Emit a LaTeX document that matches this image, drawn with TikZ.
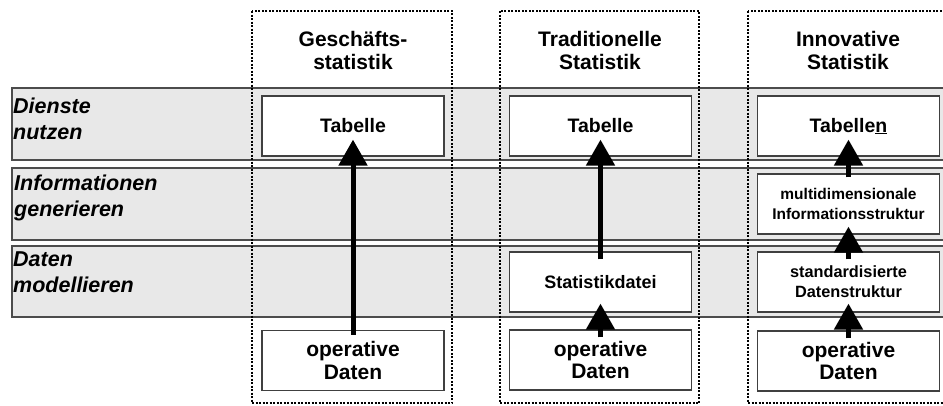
\documentclass[tikz,border=0pt]{standalone}
\definecolor{bandgray}{RGB}{232,232,232}
\usepackage{fontspec}
\setmainfont{Liberation Sans}
\usepackage{tikz}
\usetikzlibrary{arrows.meta,positioning}
\usepackage{xcolor}

\begin{document}
\begin{tikzpicture}[x=1pt, y=-1pt,
    band/.style={fill=bandgray, draw=black!70, line width=1.2pt},
    column/.style={draw=black, line width=2pt, dash pattern=on 2pt off 1.5pt},
    layer/.style={anchor=north west, inner sep=0pt, align=left, font=\fontsize{21.5}{25.5}\selectfont\bfseries\itshape},
    head/.style={anchor=north, inner sep=0pt, align=center, font=\fontsize{21}{23.5}\selectfont\bfseries},
    box/.style={draw=black!75, fill=white, line width=1.2pt, minimum width=182pt, minimum height=60pt, inner sep=0pt, align=center},
    flow/.style={line width=5pt, -{Triangle[length=26pt,width=28pt]}}]
    \useasboundingbox (0,0) rectangle (943,405);
    \clip (0,0) rectangle (943,405);
    % layers
    \draw[band] (12,88) rectangle (960,160);
    \draw[band] (12,168) rectangle (960,240);
    \draw[band] (12,246) rectangle (960,317);
    \node[layer] (dienste) at (13,98) {Dienste\\nutzen};
    \node[layer] (info) at (14,175) {Informationen\\generieren};
    \node[layer] (daten) at (13,252) {Daten\\modellieren};
    % columns
    \draw[column] (252,11) rectangle (452,403);
    \draw[column] (500,11) rectangle (699,403);
    \draw[column] (748,11) rectangle (948,403);
    \node[head] (gs) at (353,31) {Geschäfts-\\statistik};
    \node[head] (ts) at (600,31) {Traditionelle\\Statistik};
    \node[head] (is) at (848,31) {Innovative\\Statistik};
    % Geschaeftsstatistik
    \node[box, font=\fontsize{19.5}{21}\selectfont\bfseries] (tab1) at (353,126) {Tabelle};
    \node[box, font=\fontsize{21}{22.5}\selectfont\bfseries] (op1) at (353,360.5) {operative\\Daten};
    \draw[flow] ([yshift=-5pt]op1.north) -- ([yshift=17pt]tab1.south);
    % traditionelle Statistik
    \node[box, font=\fontsize{19.5}{21}\selectfont\bfseries] (tab2) at (600.5,126) {Tabelle};
    \node[box, font=\fontsize{18}{20}\selectfont\bfseries] (sdat) at (600.5,282) {Statistikdatei};
    \node[box, font=\fontsize{21}{22.5}\selectfont\bfseries] (op2) at (600.5,360) {operative\\Daten};
    \draw[flow] ([yshift=-8pt]sdat.north) -- ([yshift=17pt]tab2.south);
    \draw[flow] ([yshift=-8pt]op2.north) -- ([yshift=9pt]sdat.south);
    % innovative Statistik
    \node[box, font=\fontsize{19.5}{21}\selectfont\bfseries] (tab3) at (848.5,126) {Tabelle\underline{n}};
    \node[box, font=\fontsize{15.5}{20}\selectfont\bfseries] (mdim) at (848.5,204) {multidimensionale\\Informationsstruktur};
    \node[box, font=\fontsize{16.3}{20}\selectfont\bfseries] (std) at (848.5,282) {standardisierte\\Datenstruktur};
    \node[box, font=\fontsize{21}{22.5}\selectfont\bfseries] (op3) at (848.5,361) {operative\\Daten};
    \draw[flow] ([yshift=-4pt]mdim.north) -- ([yshift=17pt]tab3.south);
    \draw[flow] ([yshift=-8pt]std.north) -- ([yshift=8pt]mdim.south);
    \draw[flow] ([yshift=-8pt]op3.north) -- ([yshift=9pt]std.south);
\end{tikzpicture}
\end{document}
